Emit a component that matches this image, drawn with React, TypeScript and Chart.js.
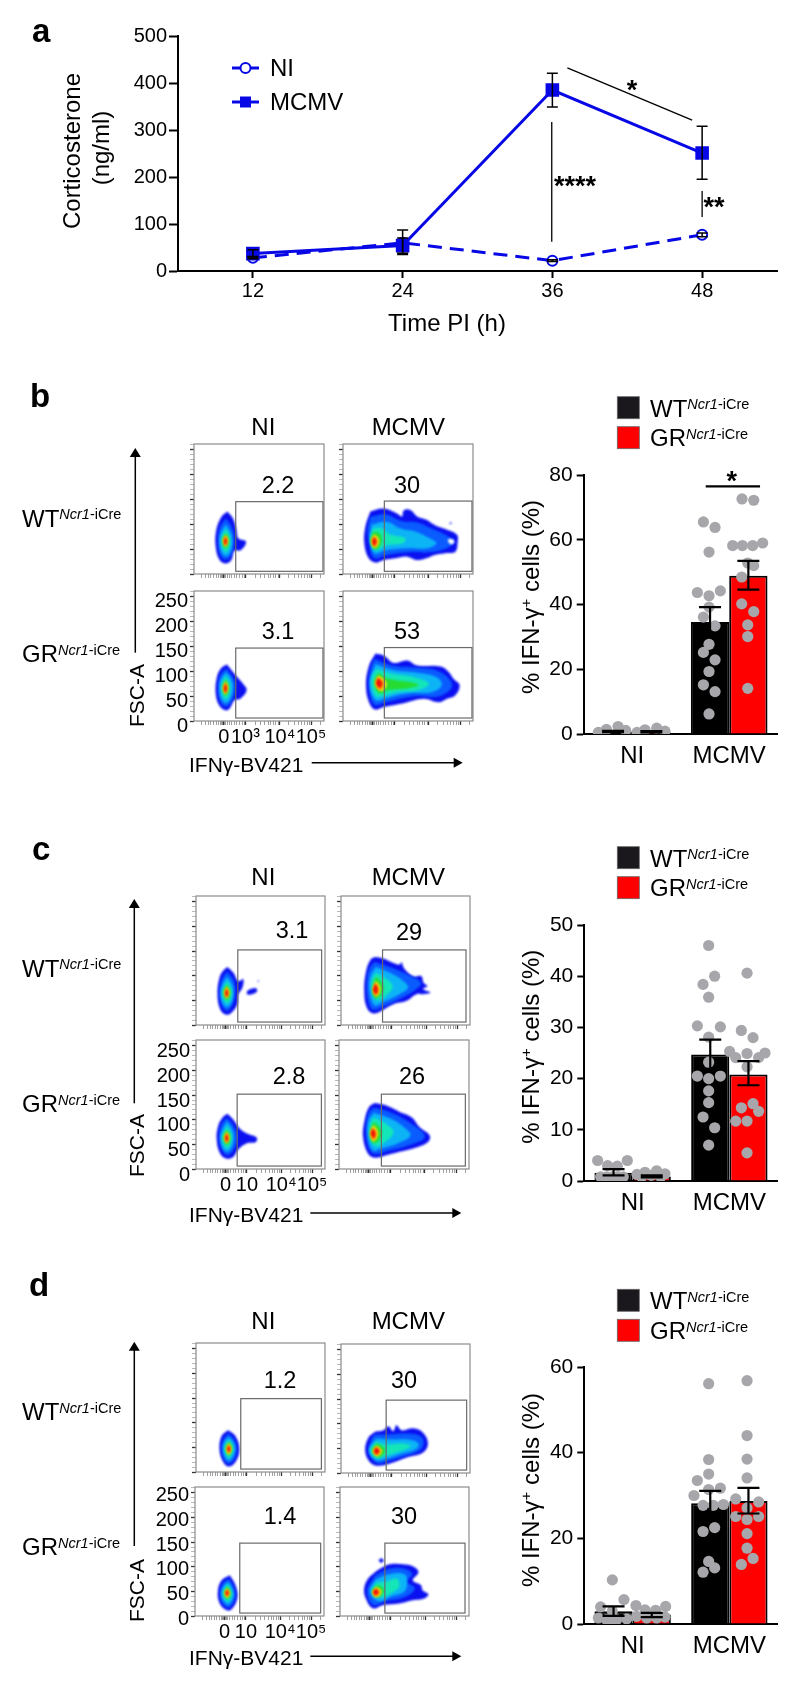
import React, { useEffect, useRef } from "react";
import { Chart, registerables } from "chart.js";

Chart.register(...registerables);

const FONT = "'Liberation Sans', Arial, sans-serif";
const BLUE = "#0808e6";

/* ---------- panel a ---------- */
const hours = [12, 24, 36, 48];
const niMeans = [28, 60, 22, 77];
const niLow = [26, 35, 20, 73];
const niHigh = [31, 87, 24, 81];
const mcmvMeans = [37, 54, 385, 251];
const mcmvLow = [30, 38, 349, 195];
const mcmvHigh = [45, 70, 421, 308];
const sigLinesA = [
  [37.2, 432, 47.2, 321],
  [35.95, 317, 35.95, 62],
  [48, 170, 48, 115],
];

/* ---------- bar panels ---------- */
const groups = ["NI", "MCMV"];

const bWt = [0.8, 34.6];
const bGr = [0.7, 48.9];
const bWtLow = [0.6, 30];
const bWtHigh = [1, 39.2];
const bGrLow = [0.5, 44.6];
const bGrHigh = [0.9, 53.5];
const bSig = [0.758, 1.318, 76.5];
const bDots = [
  [0.734, 65.5], [0.854, 63.8], [0.792, 56.2], [0.672, 43.7], [0.909, 44.2], [0.792, 42.7], [0.792, 39.2], [0.734, 36.1],
  [0.854, 33.4], [0.792, 27.7], [0.734, 25.2], [0.854, 22.9], [0.792, 19.3], [0.734, 15.2], [0.854, 13.1], [0.792, 6.2],
  [1.132, 72.6], [1.253, 72.2], [1.036, 58.2], [1.136, 58.2], [1.242, 58.2], [1.345, 59], [1.191, 52.8], [1.253, 52],
  [1.129, 48.5], [1.129, 40.2], [1.253, 37.8], [1.191, 33.7], [1.191, 30.1], [1.191, 14.1],
  [-0.349, 0.5], [-0.266, 1.4], [-0.146, 2.3], [-0.067, 1.1], [0.05, 0.5], [0.132, 1.3], [0.253, 1.8], [0.338, 0.9],
];

const cWt = [1.63, 24.7];
const cGr = [0.9, 20.8];
const cWtLow = [1.1, 21.8];
const cWtHigh = [2.3, 27.6];
const cGrLow = [0.7, 18.7];
const cGrHigh = [1.1, 23.4];
const cDots = [
  [0.786, 46], [0.848, 40], [0.728, 38.4], [0.786, 35.9], [0.669, 30.3], [0.907, 30.1], [0.786, 28.1], [0.786, 23.2],
  [0.669, 20.5], [0.907, 20.5], [0.786, 20], [0.786, 17.6], [0.786, 15.3], [0.728, 12.5], [0.848, 10.4], [0.786, 7],
  [1.183, 40.6], [1.124, 29.4], [1.245, 28], [1.003, 25.3], [1.369, 25], [1.183, 24.9], [1.066, 24.1], [1.303, 24.1],
  [1.183, 22.3], [1.124, 14.3], [1.245, 15.1], [1.303, 13.6], [1.066, 11.7], [1.183, 11.7], [1.183, 5.5],
  [-0.362, 4], [-0.055, 4], [-0.259, 3], [-0.159, 2.9], [-0.331, 0.8], [-0.269, 0.8], [-0.21, 0.8], [-0.148, 0.8], [-0.097, 0.8],
  [0.128, 1.7], [0.248, 2], [0.045, 1.3], [0.334, 1.4], [0.193, 1.1], [0.093, 0.8], [0.29, 0.8],
];

const dWt = [3, 28.2];
const dGr = [2.2, 28.7];
const dWtLow = [1.9, 25.3];
const dWtHigh = [4.1, 31.1];
const dGrLow = [1.6, 25.8];
const dGrHigh = [2.6, 31.8];
const dDots = [
  [0.786, 56.1], [0.786, 38.4], [0.786, 35], [0.669, 33.5], [0.907, 31.7], [0.786, 31.4], [0.634, 30], [0.728, 27.7],
  [0.834, 27.7], [0.938, 27.9], [0.848, 22.5], [0.728, 21.6], [0.786, 14.6], [0.848, 13.1], [0.728, 12.1],
  [1.183, 56.8], [1.183, 44], [1.183, 38.5], [1.183, 34.1], [1.066, 29.2], [1.303, 28.5], [1.183, 27.1], [1.066, 25.1],
  [1.303, 25.1], [1.183, 24.4], [1.183, 21.1], [1.183, 17.7], [1.245, 15.3], [1.124, 13.9],
  [-0.21, 10.3], [-0.09, 5.7], [-0.331, 4], [-0.21, 3], [-0.355, 1.4], [-0.269, 1], [-0.166, 1], [-0.062, 1.2], [-0.21, 1.2],
  [0.034, 4.3], [0.341, 4.1], [0.128, 3.3], [0.238, 3.2], [0.041, 1.8], [0.145, 1.4], [0.248, 1.4], [0.334, 1.6],
];

/* ---------- flow cytometry panels: density contours [level, outline] in channel / FSC units ---------- */
const fscMajor = [0, 50, 100, 150, 200, 250];
const fscMinor = [10, 20, 30, 40, 60, 70, 80, 90, 110, 120, 130, 140, 160, 170, 180, 190, 210, 220, 230, 240, 260];
const ifnMajor = [23, 39.5, 66, 90];
const ifnMinor = [6, 9, 11, 13, 15, 17, 19, 20.5, 21.5, 22.2, 23.8, 24.5, 25.5, 27, 29, 31, 33, 35, 37, 38.5, 47, 51, 54, 57, 59, 61, 63, 65, 73, 77, 80, 83, 85, 87, 89, 97];
const ifnLabelsB = ["0", "10³", "10⁴", "10⁵"];
const ifnLabelsCD = ["0", "10", "10⁴", "10⁵"];

const bTL = [
  [0, [[25.6, 126], [30, 112], [32.6, 89], [34, 72], [40, 65], [36, 48], [31, 47], [28.7, 28], [24.4, 21], [19.7, 28], [16.7, 55], [17.2, 89], [21, 115]]],
  [1, [[24.5, 112], [29, 95], [31, 70], [29, 40], [24.5, 29], [20, 40], [18.5, 70], [20, 95]]],
  [2, [[24.5, 100], [28, 85], [29.5, 68], [28, 45], [24.5, 36], [21, 45], [19.5, 68], [21, 85]]],
  [3, [[24.5, 90], [27, 80], [28, 67], [27, 52], [24.5, 44], [22, 52], [21, 67], [22, 80]]],
  [4, [[24.3, 82], [26.3, 75], [27, 67], [26.3, 58], [24.3, 52], [22.5, 58], [21.8, 67], [22.5, 75]]],
  [5, [[24.2, 79], [25.9, 72], [26.3, 67], [25.8, 61], [24.2, 55], [22.8, 61], [22.2, 67], [22.8, 72]]],
  [6, [[24.2, 77], [25.7, 67], [24.2, 57], [22.7, 67]]],
  [7, [[24.2, 74], [25.2, 66], [24.2, 58], [23.2, 66]]],
];
const bTR = [
  [0, [[21, 126], [31.3, 132], [41.5, 122], [45.4, 116], [46.7, 128], [51.8, 129], [57, 116], [64.6, 109], [68.5, 102], [73.6, 95], [80, 89], [87.7, 79], [88.2, 65], [86.4, 45], [78.7, 42], [69.7, 38], [64.6, 32], [57, 28], [49.2, 35], [41.5, 32], [31.3, 28], [24.9, 23], [19.7, 32], [16.4, 62], [17.2, 95]]],
  [1, [[21, 115], [33, 120], [45, 107], [57, 104], [68, 92], [80, 77], [85, 66], [80, 52], [66, 44], [50, 44], [33, 38], [24, 32], [20, 62], [19, 90]]],
  [2, [[22, 100], [34, 105], [44, 92], [56, 85], [68, 70], [72, 62], [65, 52], [50, 52], [33, 48], [24, 42], [21, 70]]],
  [3, [[23, 92], [30, 92], [36, 80], [48, 72], [46, 62], [34, 58], [25, 48], [21, 70]]],
  [4, [[23.5, 85], [28, 82], [30, 70], [28, 55], [24, 50], [21, 68]]],
  [5, [[24, 80], [27.4, 72], [27.4, 60], [24, 53], [21.6, 66]]],
  [6, [[24, 77], [26.6, 68], [26, 58], [24, 55], [22.2, 66]]],
  [7, [[24, 74], [25.6, 66], [24, 57], [22.6, 66]]],
  [8, [[81, 71], [85, 69], [85.5, 63], [83, 60], [81, 65]]],
  [0, [[82, 103], [83.5, 104], [83.5, 102], [82, 101]]],
];
const bBL = [
  [0, [[25.4, 114], [33, 89], [37.7, 75], [40.5, 62], [35.6, 45], [31, 42], [27.4, 25], [24.4, 21.5], [19.7, 30], [16.7, 55], [17.7, 89], [21, 107]]],
  [1, [[24.8, 106], [30, 88], [32, 68], [29, 40], [24.5, 29], [20, 40], [18.5, 68], [20, 92]]],
  [2, [[24.6, 98], [28.5, 85], [30, 68], [28, 45], [24.5, 36], [21, 45], [19.5, 68], [21, 85]]],
  [3, [[24.5, 90], [27, 80], [28, 67], [27, 52], [24.5, 44], [22, 52], [21, 67], [22, 80]]],
  [4, [[24.3, 83], [26.3, 75], [27, 67], [26.3, 58], [24.3, 51], [22.5, 58], [21.8, 67], [22.5, 75]]],
  [5, [[24.2, 80], [25.9, 72], [26.3, 67], [25.8, 60], [24.2, 54], [22.8, 60], [22.2, 67], [22.8, 72]]],
  [6, [[24.2, 78], [25.7, 67], [24.2, 56], [22.7, 67]]],
  [7, [[24.2, 75], [25.2, 66], [24.2, 57], [23.2, 66]]],
];
const bBR = [
  [0, [[24.9, 136], [31.3, 132], [39, 117], [49.2, 122], [57, 112], [75, 110], [81.3, 99], [85, 85], [89.7, 72], [86.4, 52], [80, 45], [73.6, 38], [62, 45], [46.7, 36], [31.3, 28], [24.9, 23], [20.5, 35], [17.7, 69], [19.7, 109]]],
  [1, [[24, 125], [38, 112], [55, 108], [74, 100], [84, 72], [74, 50], [55, 50], [33, 38], [24, 33], [20, 70], [21, 105]]],
  [2, [[25, 115], [38, 103], [55, 98], [72, 88], [76, 72], [68, 58], [50, 56], [33, 46], [25, 42], [20.5, 75]]],
  [3, [[26, 105], [38, 95], [55, 88], [66, 75], [58, 62], [42, 58], [30, 50], [25, 50], [22, 75], [23, 95]]],
  [4, [[27, 97], [35, 85], [52, 78], [58, 72], [50, 66], [35, 62], [28, 56], [24, 76]]],
  [5, [[27, 92], [32.5, 82], [33.5, 70], [29, 60], [24.8, 75]]],
  [6, [[27, 89], [31, 80], [31, 68], [28, 63], [25.2, 76]]],
  [7, [[27, 86], [30, 77], [28.4, 67], [25.6, 76]]],
];
const cTL = [
  [0, [[24.4, 118], [29, 106], [32.8, 89], [36.6, 93], [36, 76], [32.8, 62], [32, 42], [27.7, 25.5], [23.3, 21], [18.7, 32], [16.7, 62], [18.2, 96], [21.3, 111]]],
  [0, [[42, 73], [46, 75], [47.5, 69], [44, 63], [40, 62], [39.5, 68]]],
  [0, [[47.8, 90], [48.8, 90], [48.8, 88], [47.8, 88]]],
  [1, [[24, 108], [29, 92], [30.5, 66], [28, 40], [24, 29], [20, 40], [18, 66], [20, 92]]],
  [2, [[24, 98], [27.8, 84], [29, 66], [27.5, 45], [24, 36], [20.5, 45], [19.2, 66], [20.8, 84]]],
  [3, [[24, 89], [26.8, 78], [27.8, 66], [26.8, 52], [24, 44], [21.5, 52], [20.4, 66], [21.6, 78]]],
  [4, [[23.9, 81], [26, 74], [26.8, 66], [26, 57], [23.9, 51], [22, 57], [21.2, 66], [22, 74]]],
  [5, [[23.8, 78], [25.5, 71], [26, 66], [25.4, 60], [23.8, 54], [22.4, 60], [21.8, 66], [22.4, 71]]],
  [6, [[23.8, 76], [25.3, 66], [23.8, 56], [22.3, 66]]],
  [7, [[23.8, 73], [24.8, 65], [23.8, 57], [22.8, 65]]],
];
const cTR = [
  [0, [[26.4, 138], [32.8, 135], [40.5, 126], [45.6, 123], [47, 128], [48.7, 116], [56, 99], [62.3, 99], [64, 86], [67, 79], [63.6, 73], [69.2, 66], [63.6, 62.5], [58.5, 62.5], [50.8, 49], [40.5, 42], [31.5, 29], [25, 23.5], [20, 35.6], [18, 69], [19.5, 109.5], [23, 133]]],
  [1, [[26, 128], [40, 116], [52, 102], [62, 86], [58, 72], [48, 56], [33, 38], [25, 31], [21, 50], [20, 90], [22, 115]]],
  [2, [[27, 118], [38, 106], [48, 90], [52, 76], [45, 62], [33, 47], [26, 40], [22, 70], [23, 100]]],
  [3, [[27, 106], [35, 94], [40, 78], [36, 62], [28, 50], [24, 68], [24, 92]]],
  [4, [[27, 98], [31, 88], [33, 74], [30, 58], [26, 55], [24.5, 75]]],
  [5, [[27, 90], [30, 80], [30.4, 68], [27.5, 58], [24.6, 72]]],
  [6, [[26.8, 87], [29.2, 76], [28.8, 64], [26.2, 60], [24.8, 72]]],
  [7, [[26.5, 84], [28.4, 74], [27.4, 63], [25, 71]]],
];
const cBL = [
  [0, [[24.4, 112], [29, 100], [34, 82], [40.5, 71], [47, 64], [46.4, 55], [39, 52], [32.8, 40], [29, 25], [23.8, 21], [18.7, 31.6], [16, 62], [17.4, 89], [20.8, 105]]],
  [1, [[24, 104], [29, 88], [32, 66], [29, 38], [24, 28], [20, 40], [17.8, 64], [19.5, 90]]],
  [2, [[24, 96], [27.8, 82], [29.2, 64], [27.5, 43], [24, 35], [20.5, 43], [19, 64], [20.8, 82]]],
  [3, [[23.9, 87], [26.8, 76], [27.8, 64], [26.8, 50], [23.9, 42], [21.5, 50], [20.2, 64], [21.6, 76]]],
  [4, [[23.8, 79], [26, 72], [26.8, 64], [26, 55], [23.8, 49], [22, 55], [21, 64], [22, 72]]],
  [5, [[23.8, 76], [25.5, 69], [26, 64], [25.4, 58], [23.8, 52], [22.3, 58], [21.7, 64], [22.3, 69]]],
  [6, [[23.8, 74], [25.3, 64], [23.8, 54], [22.3, 64]]],
  [7, [[23.8, 71], [24.8, 63], [23.8, 55], [22.8, 63]]],
];
const cBR = [
  [0, [[27.4, 134], [36.4, 129], [46.7, 116], [55.6, 105.5], [62, 85], [69.7, 68.5], [68.5, 55], [57, 41.7], [46.7, 35], [36.4, 28], [27.4, 23], [22.3, 31.6], [18.5, 65], [19.7, 99], [23, 125.6]]],
  [1, [[27, 125], [40, 115], [54, 95], [66, 66], [54, 48], [38, 37], [27, 31], [22, 50], [21, 90], [23, 115]]],
  [2, [[27, 115], [40, 102], [50, 85], [55, 68], [45, 52], [33, 42], [26, 38], [22, 70], [23, 100]]],
  [3, [[26.5, 105], [36, 92], [42, 75], [36, 56], [28, 46], [23.5, 70], [24, 92]]],
  [4, [[26.5, 95], [31, 86], [33, 72], [30, 56], [25.5, 54], [24, 75]]],
  [5, [[26.3, 90], [29.4, 80], [30, 68], [26.5, 56], [24, 72]]],
  [6, [[26, 85], [28.6, 76], [28.6, 65], [26, 59], [24.2, 72]]],
  [7, [[26, 82], [27.8, 74], [27, 63], [24.6, 72]]],
];
const dTL = [
  [0, [[24.9, 85], [30.3, 74], [33.6, 47], [31, 22], [25.4, 11], [20.8, 22], [18.2, 47], [20, 74]]],
  [1, [[25.2, 78], [29.5, 66], [31.8, 47], [29.5, 26], [25.4, 17], [21.5, 26], [19.6, 47], [21.2, 66]]],
  [2, [[25.3, 71], [28.6, 62], [30.2, 47], [28.6, 31], [25.4, 23], [22.4, 31], [21, 47], [22.2, 62]]],
  [3, [[25.4, 65], [27.8, 58], [29, 47], [27.8, 36], [25.4, 29], [23.2, 36], [22, 47], [23.1, 58]]],
  [4, [[25.4, 61], [27.2, 55], [28, 47], [27.2, 40], [25.4, 34], [23.8, 40], [22.9, 47], [23.8, 55]]],
  [5, [[25.4, 59], [27.5, 47], [25.4, 35], [23.4, 47]]],
  [6, [[25.4, 57], [27, 47], [25.4, 38], [23.9, 47]]],
  [7, [[25.4, 54], [26.4, 47], [25.4, 40], [24.4, 47]]],
];
const dTR = [
  [0, [[26.4, 84], [32.8, 86.7], [36.7, 95], [40.5, 85], [43, 97], [47, 86.7], [56, 90.7], [63.6, 82], [67.4, 60], [63.6, 41.7], [50.8, 31.6], [40.5, 21.5], [29, 14.8], [22.6, 21.5], [18.7, 45], [21.3, 72]]],
  [1, [[26, 78], [36, 78], [50, 80], [62, 74], [64, 58], [60, 44], [48, 33], [36, 24], [28, 20], [22, 40], [23, 65]]],
  [2, [[27, 70], [38, 68], [52, 68], [60, 60], [58, 48], [46, 38], [34, 28], [27, 26], [21.5, 46]]],
  [3, [[27, 64], [35, 58], [46, 60], [54, 55], [46, 44], [34, 34], [27, 30], [23, 46]]],
  [4, [[27.5, 60], [33, 52], [34, 42], [29, 32], [24, 46]]],
  [5, [[27.5, 56], [31.4, 48], [31.4, 40], [27.5, 34], [24.6, 45]]],
  [6, [[27.5, 54], [30.6, 46], [30, 40], [27.5, 36], [25.2, 45]]],
  [7, [[27.5, 52], [29.6, 45], [27.5, 38], [25.6, 45]]],
];
const dBL = [
  [0, [[27, 83], [31.5, 62], [32.8, 36], [28.2, 13], [24.4, 12], [19.2, 25.5], [17.7, 49], [20.5, 72]]],
  [1, [[26.3, 76], [30.2, 58], [31.3, 38], [27.5, 19], [24.6, 18], [20.5, 29], [19.2, 48], [21.5, 66]]],
  [2, [[25.8, 69], [29, 55], [29.8, 40], [27, 25], [24.8, 24], [21.5, 33], [20.5, 48], [22.3, 61]]],
  [3, [[25.4, 64], [28, 53], [28.6, 42], [26.5, 31], [24.8, 30], [22.4, 37], [21.6, 47], [23, 57]]],
  [4, [[25.2, 60], [27.2, 51], [27.6, 43], [26, 36], [24.8, 35], [23, 40], [22.5, 47], [23.6, 54]]],
  [5, [[25, 57], [27.1, 47], [25, 37], [23, 47]]],
  [6, [[24.9, 55], [26.6, 47], [24.9, 39], [23.3, 47]]],
  [7, [[24.9, 53], [26, 47], [24.9, 41], [23.8, 47]]],
];
const dBR = [
  [0, [[27, 89], [33, 99], [38.5, 105], [48.7, 105], [56.4, 101], [60.8, 89], [56.4, 72.6], [62.8, 62.5], [64, 52.4], [68.5, 44], [65.4, 35.6], [56.4, 32], [46, 25.5], [33, 22], [25.6, 15.5], [20, 35.6], [18.7, 55.8], [21.8, 76]]],
  [0, [[32, 118], [34, 113], [32, 108], [30, 113]]],
  [1, [[27, 82], [38, 96], [50, 96], [56, 85], [52, 70], [58, 56], [50, 38], [35, 30], [26, 22], [21, 50]]],
  [2, [[28, 75], [38, 85], [50, 85], [52, 70], [50, 50], [40, 40], [30, 30], [23, 50]]],
  [3, [[28, 68], [36, 70], [44, 76], [46, 60], [42, 50], [32, 38], [25, 50]]],
  [4, [[28, 62], [32, 60], [34, 50], [29, 38], [25, 48]]],
  [5, [[27.8, 59], [31.4, 54], [32, 46], [28, 38], [25, 48]]],
  [6, [[27.7, 57], [30.6, 51], [30.6, 45], [27.7, 40], [25.4, 48]]],
  [7, [[27.7, 55], [29.8, 49], [27.7, 42], [25.8, 49]]],
];

/* gates: x0, x1, y0, y1 in channel / FSC units */
const bGates = [[32.1, 99.2, 5.4, 145.8], [31.8, 99.2, 5.4, 147], [32.1, 99.2, 6, 147], [31.8, 99.2, 6, 148]];
const cGates = [[32.4, 97.4, 6, 152.5], [32.2, 96.9, 6, 152.5], [31.9, 97.2, 6, 152], [32.6, 97.2, 6, 152]];
const dGates = [[34.7, 97.2, 6, 149], [35, 97.4, 6, 148], [34.7, 97.4, 6, 148], [34.8, 96.9, 6, 148]];

/* ---------- styles and layout ---------- */
const densityColors = ["#0a10f0", "#0a5cff", "#0cb4f6", "#14e6b8", "#26dc30", "#e6e81c", "#ff8a00", "#ee0c0c", "#ffffff"];

const framesB = [[194.3, 444.3, 324.3, 574], [342.7, 444.3, 472.7, 574], [194.3, 590.7, 324.3, 720.7], [342.7, 590.7, 472.7, 720.7]];
const framesC = [[195.7, 895.7, 324.3, 1024.3], [340.7, 895.7, 470, 1024.3], [195.7, 1040, 324.3, 1169], [339.3, 1040, 469, 1169]];
const framesD = [[195.7, 1342.7, 324.3, 1471.7], [340.7, 1343.7, 469.3, 1472.3], [195, 1487.3, 323.7, 1616], [340, 1487.3, 469.3, 1616]];

const flowSections = [
  { frames: framesB, contours: [bTL, bTR, bBL, bBR], gates: bGates, labels: ifnLabelsB, yOffset: 5 },
  { frames: framesC, contours: [cTL, cTR, cBL, cBR], gates: cGates, labels: ifnLabelsCD, yOffset: 6 },
  { frames: framesD, contours: [dTL, dTR, dBL, dBR], gates: dGates, labels: ifnLabelsCD, yOffset: 3 },
];

const barBoxes = [
  { top: 475.3, bottom: 734, max: 80, step: 20, wt: bWt, gr: bGr, wtLow: bWtLow, wtHigh: bWtHigh, grLow: bGrLow, grHigh: bGrHigh, dots: bDots, sig: bSig, axisX: 583.7 },
  { top: 924.7, bottom: 1180.7, max: 50, step: 10, wt: cWt, gr: cGr, wtLow: cWtLow, wtHigh: cWtHigh, grLow: cGrLow, grHigh: cGrHigh, dots: cDots, sig: null, axisX: 584.3 },
  { top: 1367.3, bottom: 1624.3, max: 60, step: 20, wt: dWt, gr: dGr, wtLow: dWtLow, wtHigh: dWtHigh, grLow: dGrLow, grHigh: dGrHigh, dots: dDots, sig: null, axisX: 584.3 },
];

/* ---------- configs ---------- */
const fixW = (w: number) => (s: any) => { s.width = w; };
const fixH = (h: number) => (s: any) => { s.height = h; };
const tickFont = (size: number) => ({ family: FONT, size, lineHeight: 1.2 });

function lineConfig() {
  const errors = [
    { xs: hours, lo: niLow, hi: niHigh },
    { xs: hours, lo: mcmvLow, hi: mcmvHigh },
  ];
  const plugin = {
    id: "annotA",
    afterDatasetsDraw(chart: any) {
      const { ctx, scales: { x, y } } = chart;
      ctx.save();
      ctx.strokeStyle = "#000";
      ctx.lineWidth = 1.5;
      errors.forEach((e) => e.xs.forEach((h, i) => {
        const px = x.getPixelForValue(h);
        const a = y.getPixelForValue(e.lo[i]);
        const b = y.getPixelForValue(e.hi[i]);
        ctx.beginPath();
        ctx.moveTo(px, a); ctx.lineTo(px, b);
        ctx.moveTo(px - 5.5, a); ctx.lineTo(px + 5.5, a);
        ctx.moveTo(px - 5.5, b); ctx.lineTo(px + 5.5, b);
        ctx.stroke();
      }));
      ctx.lineWidth = 1.3;
      sigLinesA.forEach(([x0, y0, x1, y1]) => {
        ctx.beginPath();
        ctx.moveTo(x.getPixelForValue(x0), y.getPixelForValue(y0));
        ctx.lineTo(x.getPixelForValue(x1), y.getPixelForValue(y1));
        ctx.stroke();
      });
      ctx.restore();
    },
  };
  return {
    type: "scatter",
    data: {
      datasets: [
        {
          label: "MCMV", order: 1, showLine: true, data: hours.map((h, i) => ({ x: h, y: mcmvMeans[i] })),
          borderColor: BLUE, backgroundColor: BLUE, borderWidth: 3, pointStyle: "rect", pointRadius: 7.5, clip: false,
        },
        {
          label: "NI", order: 2, showLine: true, data: hours.map((h, i) => ({ x: h, y: niMeans[i] })),
          borderColor: BLUE, backgroundColor: "#fff", borderWidth: 3, borderDash: [14, 8], pointRadius: 5, pointBorderWidth: 2, pointBorderColor: BLUE, clip: false,
        },
      ],
    },
    options: {
      animation: false, responsive: false,
      layout: { padding: { top: 36, right: 23, left: 0, bottom: 0 } },
      plugins: { legend: { display: false }, tooltip: { enabled: false } },
      scales: {
        x: {
          type: "linear", min: 6, max: 54,
          afterBuildTicks: (s: any) => { s.ticks = hours.map((v) => ({ value: v })); },
          afterFit: fixH(69),
          border: { color: "#000", width: 2 },
          grid: { drawOnChartArea: false, tickLength: 7, tickColor: "#000", tickWidth: 2 },
          ticks: { font: tickFont(20), color: "#000", padding: 1, maxRotation: 0, autoSkip: false },
        },
        y: {
          min: 0, max: 500,
          afterFit: fixW(178),
          border: { color: "#000", width: 2 },
          grid: { drawOnChartArea: false, tickLength: 9, tickColor: "#000", tickWidth: 2 },
          ticks: { stepSize: 100, font: tickFont(20), color: "#000", padding: 2 },
        },
      },
    },
    plugins: [plugin],
  };
}

function barConfig(b: any, canvasLeft: number, canvasTop: number, canvasBottom: number) {
  const plugin = {
    id: "barErrors",
    afterDatasetsDraw(chart: any) {
      const { ctx, scales: { y, x } } = chart;
      ctx.save();
      ctx.strokeStyle = "#000";
      ctx.lineWidth = 2.2;
      [[0, b.wtLow, b.wtHigh], [1, b.grLow, b.grHigh]].forEach(([ds, lo, hi]: any) => {
        chart.getDatasetMeta(ds).data.forEach((bar: any, i: number) => {
          const a = y.getPixelForValue(lo[i]);
          const c = y.getPixelForValue(hi[i]);
          ctx.beginPath();
          ctx.moveTo(bar.x, a); ctx.lineTo(bar.x, c);
          ctx.moveTo(bar.x - 11, a); ctx.lineTo(bar.x + 11, a);
          ctx.moveTo(bar.x - 11, c); ctx.lineTo(bar.x + 11, c);
          ctx.stroke();
        });
      });
      if (b.sig) {
        const py = y.getPixelForValue(b.sig[2]);
        ctx.beginPath();
        ctx.moveTo(x.getPixelForValue(b.sig[0]), py);
        ctx.lineTo(x.getPixelForValue(b.sig[1]), py);
        ctx.stroke();
      }
      ctx.restore();
    },
  };
  const toBars = (vals: number[]) => vals.map((v, i) => ({ x: i, y: v }));
  return {
    type: "bar",
    data: {
      datasets: [
        { label: "WT", data: toBars(b.wt), backgroundColor: "#000", borderColor: "#000", borderWidth: 2, order: 2, categoryPercentage: 0.79, barPercentage: 1 },
        { label: "GR", data: toBars(b.gr), backgroundColor: "#ff0000", borderColor: "#000", borderWidth: 2, order: 2, categoryPercentage: 0.79, barPercentage: 1 },
        {
          type: "scatter", label: "Mice", order: 1, showLine: false,
          data: b.dots.map(([x, y]: number[]) => ({ x, y })),
          backgroundColor: "#a7a7ab", borderWidth: 0, pointRadius: 5.6,
        },
      ],
    },
    options: {
      animation: false, responsive: false,
      layout: { padding: { top: b.top - canvasTop, right: 800 - 777.7, left: 0, bottom: 0 } },
      plugins: { legend: { display: false }, tooltip: { enabled: false } },
      scales: {
        x: {
          type: "linear", min: -0.5, max: 1.5, offset: false,
          afterBuildTicks: (s: any) => { s.ticks = groups.map((_, i) => ({ value: i })); },
          afterFit: fixH(canvasBottom - b.bottom),
          border: { color: "#000", width: 2 },
          grid: { display: false, drawTicks: false },
          ticks: { font: tickFont(24), color: "#000", padding: 8, maxRotation: 0, autoSkip: false, callback: (v: number) => groups[v] },
        },
        y: {
          min: 0, max: b.max,
          afterFit: fixW(b.axisX - canvasLeft),
          border: { color: "#000", width: 2 },
          grid: { drawOnChartArea: false, tickLength: 7, tickColor: "#000", tickWidth: 2 },
          ticks: { stepSize: b.step, font: tickFont(21), color: "#000", padding: 4 },
        },
      },
    },
    plugins: [plugin],
  };
}

const softDensity = {
  id: "softDensity",
  beforeDatasetsDraw(chart: any) {
    chart.ctx.save();
    chart.ctx.filter = "blur(1px)";
  },
  afterDatasetsDraw(chart: any) {
    chart.ctx.restore();
  },
};

function flowConfig(contours: any[], gate: number[], frame: number[], m: any, labels: string[] | null, yOffset: number) {
  const gatePlugin = {
    id: "gateFrame",
    afterDraw(chart: any) {
      const { ctx, chartArea: a, scales: { x, y } } = chart;
      ctx.save();
      ctx.strokeStyle = "#8c8c8c";
      ctx.lineWidth = 1.2;
      ctx.strokeRect(a.left, a.top, a.right - a.left, a.bottom - a.top);
      ctx.strokeStyle = "#6a6a6a";
      const px0 = x.getPixelForValue(gate[0]);
      const px1 = x.getPixelForValue(gate[1]);
      const py0 = y.getPixelForValue(gate[2]);
      const py1 = y.getPixelForValue(gate[3]);
      ctx.strokeRect(px0, py1, px1 - px0, py0 - py1);
      ctx.restore();
    },
  };
  return {
    type: "scatter",
    data: {
      datasets: contours.map(([level, pts]: any, i: number) => ({
        label: `level ${level}`,
        order: contours.length - i,
        showLine: true,
        data: [...pts, pts[0]].map(([x, y]: number[]) => ({ x, y })),
        fill: "shape",
        tension: 0.4,
        borderWidth: 0,
        pointRadius: 0,
        backgroundColor: densityColors[level],
        borderColor: densityColors[level],
      })),
    },
    options: {
      animation: false, responsive: false,
      layout: { padding: { top: m.t, right: m.r, left: 0, bottom: 0 } },
      plugins: { legend: { display: false }, tooltip: { enabled: false } },
      scales: {
        x: {
          type: "linear", min: 0, max: 100,
          afterBuildTicks: (s: any) => {
            s.ticks = [...ifnMinor, ...ifnMajor].sort((p, q) => p - q).map((v) => ({ value: v }));
          },
          afterFit: fixH(m.b),
          border: { display: false },
          grid: {
            drawOnChartArea: false, tickLength: 4,
            tickColor: (c: any) => (ifnMajor.includes(c.tick?.value) ? "#333" : "#888"),
            tickWidth: (c: any) => (ifnMajor.includes(c.tick?.value) ? 1.3 : 0.8),
          },
          ticks: {
            display: !!labels, autoSkip: false, maxRotation: 0, minRotation: 0, padding: 0,
            font: tickFont(20), color: "#000",
            callback: (v: number) => { const k = ifnMajor.indexOf(v); return k >= 0 && labels ? labels[k] : ""; },
          },
        },
        y: {
          min: 0, max: 262,
          afterBuildTicks: (s: any) => {
            s.ticks = [...fscMinor, ...fscMajor].sort((p, q) => p - q).map((v) => ({ value: v }));
          },
          afterFit: fixW(m.l),
          border: { display: false },
          grid: {
            drawOnChartArea: false, tickLength: 4,
            tickColor: (c: any) => (fscMajor.includes(c.tick?.value) ? "#333" : "#999"),
            tickWidth: (c: any) => (fscMajor.includes(c.tick?.value) ? 1.3 : 0.7),
          },
          ticks: {
            display: !!labels, autoSkip: false, padding: 2, labelOffset: yOffset,
            font: tickFont(20), color: "#000",
            callback: (v: number) => (fscMajor.includes(v) ? String(v) : ""),
          },
        },
      },
    },
    plugins: [softDensity, gatePlugin],
  };
}

/* ---------- components ---------- */
function ChartCanvas({ left, top, width, height, make }: any) {
  const ref = useRef<HTMLCanvasElement>(null);
  useEffect(() => {
    const chart = new Chart(ref.current as any, make());
    return () => chart.destroy();
  }, []);
  return (
    <canvas
      ref={ref}
      width={width}
      height={height}
      style={{ position: "absolute", left, top, width, height, display: "block" }}
    />
  );
}

const T = ({ x, y, s = 24, a = "start", w = "normal", rot = false, children }: any) => (
  <text x={x} y={y} fontSize={s} fontFamily={FONT} fontWeight={w} textAnchor={a} fill="#000"
    transform={rot ? `rotate(-90 ${x} ${y})` : undefined}>
    {children}
  </text>
);

const Geno = ({ x, y, name }: any) => (
  <T x={x} y={y}>
    {name}
    <tspan dy={-7.5} fontSize={14.5} fontStyle="italic">Ncr1</tspan>
    <tspan fontSize={14.5}>-iCre</tspan>
  </T>
);

const PctTitle = ({ x, y }: any) => (
  <T x={x} y={y} a="middle" rot>
    % IFN-γ<tspan dy={-8} fontSize={15}>+</tspan><tspan dy={8}> cells (%)</tspan>
  </T>
);

const ArrowUp = ({ x, y0, y1 }: any) => (
  <g>
    <line x1={x} y1={y0} x2={x} y2={y1 + 8} stroke="#000" strokeWidth={1.5} />
    <polygon points={`${x},${y1} ${x - 5.5},${y1 + 9} ${x + 5.5},${y1 + 9}`} fill="#000" />
  </g>
);
const ArrowRight = ({ y, x0, x1 }: any) => (
  <g>
    <line x1={x0} y1={y} x2={x1 - 8} y2={y} stroke="#000" strokeWidth={1.5} />
    <polygon points={`${x1},${y} ${x1 - 9},${y - 5} ${x1 - 9},${y + 5}`} fill="#000" />
  </g>
);

const overlaySections = [
  {
    letter: "b", lx: 30, ly: 406.7, head: 435, wtY: 526.7, grY: 662, arrowX: 135.3, arrowBottom: 652.7, arrowTip: 448,
    hArrowY: 762.7, hArrow0: 311.7, hArrow1: 462.7, ifnY: 771.7, fscY: 727,
    nums: [["2.2", 278, 493], ["30", 407, 493], ["3.1", 278, 638.5], ["53", 407, 638.5]],
    legend: [396.7, 426.7, 416.7, 446], pctY: 597,
  },
  {
    letter: "c", lx: 32, ly: 860, head: 885, wtY: 976.7, grY: 1112.3, arrowX: 134.3, arrowBottom: 1103.3, arrowTip: 899,
    hArrowY: 1213, hArrow0: 310.3, hArrow1: 461.3, ifnY: 1222, fscY: 1177,
    nums: [["3.1", 292, 938], ["29", 409, 940], ["2.8", 289, 1084], ["26", 412, 1084]],
    legend: [846.7, 876.7, 866.7, 896], pctY: 1046.7,
  },
  {
    letter: "d", lx: 29, ly: 1295.7, head: 1328.5, wtY: 1420, grY: 1555.3, arrowX: 134.3, arrowBottom: 1546, arrowTip: 1341.7,
    hArrowY: 1656.3, hArrow0: 310.3, hArrow1: 461.3, ifnY: 1665, fscY: 1622,
    nums: [["1.2", 280, 1388], ["30", 404, 1388], ["1.4", 280, 1524], ["30", 404, 1524]],
    legend: [1289.3, 1319.3, 1309, 1339], pctY: 1490,
  },
];

function Overlay() {
  return (
    <svg width={800} height={1692} style={{ position: "absolute", left: 0, top: 0, pointerEvents: "none" }}>
      {/* panel a */}
      <T x={32} y={41.7} s={33} w="bold">a</T>
      <T x={79.5} y={151} a="middle" rot>Corticosterone</T>
      <T x={108.7} y={148} a="middle" rot>(ng/ml)</T>
      <T x={447} y={331} a="middle">Time PI (h)</T>
      <line x1={232} y1={68} x2={259} y2={68} stroke={BLUE} strokeWidth={3} />
      <circle cx={245.5} cy={68} r={5} fill="#fff" stroke={BLUE} strokeWidth={2} />
      <T x={270} y={76}>NI</T>
      <line x1={232} y1={102} x2={259} y2={102} stroke={BLUE} strokeWidth={3} />
      <rect x={240} y={96.5} width={11} height={11} fill={BLUE} />
      <T x={270} y={110}>MCMV</T>
      <T x={632} y={99} s={27} a="middle" w="bold">*</T>
      <T x={575} y={195} s={27} a="middle" w="bold">****</T>
      <T x={714} y={216} s={27} a="middle" w="bold">**</T>
      <T x={731.7} y={489.5} s={27} a="middle" w="bold">*</T>

      {overlaySections.map((o) => (
        <g key={o.letter}>
          <T x={o.lx} y={o.ly} s={33} w="bold">{o.letter}</T>
          <T x={263.3} y={o.head} a="middle">NI</T>
          <T x={408.3} y={o.head} a="middle">MCMV</T>
          <Geno x={22} y={o.wtY} name="WT" />
          <Geno x={22} y={o.grY} name="GR" />
          <ArrowUp x={o.arrowX} y0={o.arrowBottom} y1={o.arrowTip} />
          <ArrowRight y={o.hArrowY} x0={o.hArrow0} x1={o.hArrow1} />
          <T x={189} y={o.ifnY} s={21}>IFNγ-BV421</T>
          <T x={144} y={o.fscY} s={21} rot>FSC-A</T>
          {o.nums.map(([t, x, y]: any, i: number) => (
            <T key={i} x={x} y={y} s={23.5} a="middle">{t}</T>
          ))}
          <rect x={617.3} y={o.legend[0]} width={22} height={22} fill="#1a181c" stroke="#666" strokeWidth={0.8} />
          <rect x={617.3} y={o.legend[1]} width={22} height={22} fill="#ff0000" stroke="#666" strokeWidth={0.8} />
          <Geno x={650} y={o.legend[2]} name="WT" />
          <Geno x={650} y={o.legend[3]} name="GR" />
          <PctTitle x={539} y={o.pctY} />
        </g>
      ))}
    </svg>
  );
}

export default function App() {
  const flowCanvases: any[] = [];
  flowSections.forEach((sec, si) => {
    sec.frames.forEach((f, i) => {
      const labelled = i === 2;
      const m = labelled ? { l: 46, t: 18, r: 14, b: 36 } : { l: 8, t: 3, r: 3, b: 8 };
      flowCanvases.push(
        <ChartCanvas
          key={`f${si}${i}`}
          left={f[0] - m.l}
          top={f[1] - m.t}
          width={Math.round(f[2] - f[0] + m.l + m.r)}
          height={Math.round(f[3] - f[1] + m.t + m.b)}
          make={() => flowConfig(sec.contours[i], sec.gates[i], f, m, labelled ? sec.labels : null, sec.yOffset)}
        />,
      );
    });
  });
  return (
    <div style={{ position: "absolute", left: 0, top: 0, width: 800, height: 1692, background: "#fff", overflow: "hidden" }}>
      <ChartCanvas left={0} top={0} width={800} height={340} make={lineConfig} />
      {flowCanvases}
      {barBoxes.map((b, i) => {
        const left = 545;
        const top = b.top - 20;
        const bottom = b.bottom + 46;
        return (
          <ChartCanvas
            key={`b${i}`}
            left={left}
            top={top}
            width={255}
            height={Math.round(bottom - top)}
            make={() => barConfig(b, left, top, bottom)}
          />
        );
      })}
      <Overlay />
    </div>
  );
}
